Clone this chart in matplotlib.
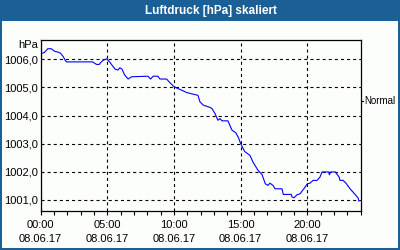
import matplotlib
matplotlib.use("Agg")
import matplotlib.pyplot as plt
from matplotlib.patches import Rectangle

plt.rcParams["font.family"] = ["Liberation Sans", "DejaVu Sans"]
plt.rcParams["lines.scale_dashes"] = False

# hours since 08.06.17 00:00 and pressure in hPa
hours = [0.0, 0.3, 0.55, 0.8, 1.0, 1.1, 1.3, 1.5, 1.7, 1.85, 1.95, 3.9, 4.2, 4.4, 4.5, 4.7,
         4.95, 5.2, 5.35, 5.6, 5.8, 5.95, 6.1, 6.3, 6.57, 6.82, 8.05, 8.25, 8.45, 8.8, 8.95,
         9.45, 9.7, 9.95, 10.2, 10.45, 10.95, 11.45, 11.8, 11.95, 12.2, 12.7, 12.85, 13.08,
         13.3, 13.45, 13.6, 14.05, 14.35, 14.65, 14.85, 15.0, 15.3, 15.7, 15.93, 16.3, 16.6,
         16.85, 17.05, 17.2, 17.43, 17.58, 18.1, 18.2, 18.8, 18.85, 19.0, 19.23, 19.45, 19.8,
         20.0, 20.2, 20.43, 20.73, 20.95, 21.1, 21.6, 21.65, 21.75, 22.1, 22.38, 22.45, 22.68,
         22.9, 23.2, 23.43, 23.65, 23.8, 23.87]
pressure = [1006.19, 1006.25, 1006.38, 1006.38, 1006.31, 1006.28, 1006.26, 1006.22, 1006.10,
            1005.97, 1005.91, 1005.91, 1005.82, 1005.82, 1005.88, 1005.97, 1006.02, 1005.90,
            1005.80, 1005.65, 1005.62, 1005.70, 1005.66, 1005.45, 1005.30, 1005.38, 1005.40,
            1005.30, 1005.40, 1005.40, 1005.30, 1005.30, 1005.17, 1005.05, 1004.98, 1004.93,
            1004.82, 1004.76, 1004.72, 1004.49, 1004.37, 1004.29, 1004.25, 1004.07, 1003.83,
            1003.89, 1003.81, 1003.81, 1003.48, 1003.38, 1003.20, 1003.00, 1002.72, 1002.58,
            1002.34, 1002.05, 1001.90, 1001.57, 1001.51, 1001.59, 1001.51, 1001.39, 1001.39,
            1001.19, 1001.19, 1001.10, 1001.07, 1001.18, 1001.21, 1001.43, 1001.57, 1001.59,
            1001.69, 1001.69, 1001.81, 1001.99, 1001.99, 1001.89, 1001.99, 1001.99, 1001.81,
            1001.69, 1001.69, 1001.59, 1001.39, 1001.27, 1001.15, 1001.07, 1000.95]

x_ticks = [0, 5, 10, 15, 20]
x_labels = ["00:00\n08.06.17", "05:00\n08.06.17", "10:00\n08.06.17",
            "15:00\n08.06.17", "20:00\n08.06.17"]
y_ticks = [1001, 1002, 1003, 1004, 1005, 1006]
y_labels = ["1001,0", "1002,0", "1003,0", "1004,0", "1005,0", "1006,0"]

W, H = 400, 250
blue = "#1a5f96"
fig = plt.figure(figsize=(4, 2.5), dpi=100, facecolor=blue)
# white body inside the blue frame
fig.patches.append(Rectangle((2 / W, 2 / H), 396 / W, (H - 23) / H, transform=fig.transFigure,
                             facecolor="#fcfefc", edgecolor="none", zorder=-5))
fig.text(211 / W, 1 - 11 / H, "Luftdruck [hPa] skaliert", color="white", fontsize=8.5,
         fontweight="bold", ha="center", va="center")

ax = fig.add_axes([40.5 / W, 39.3 / H, 320.2 / W, 170.7 / H], zorder=1)
ax.set_facecolor("#fcfefc")
ax.plot(hours, pressure, color="#0000ff", linewidth=0.8, antialiased=True)

ax.set_xlim(0, 24)
ax.set_ylim(1000.61, 1006.69)
ax.set_xticks(x_ticks)
ax.set_xticklabels(x_labels, fontsize=8, linespacing=1.5)
ax.set_xticks(range(0, 25), minor=True)
ax.set_yticks(y_ticks)
ax.set_yticklabels(y_labels, fontsize=8)
ax.tick_params(axis="x", which="both", direction="out", length=3, width=0.8, pad=4)
ax.tick_params(axis="y", length=0, pad=2)
ax.grid(True, color="black", linestyle=(0, (2.2, 2.2)), linewidth=0.8)
for s in ax.spines.values():
    s.set_linewidth(0.9)
    s.set_color("black")

ax.annotate("hPa", xy=(0.0, 1006.52), xycoords=("axes fraction", "data"),
            xytext=(-2, 0), textcoords="offset points", fontsize=8, ha="right", va="center")
ax.annotate("Normal", xy=(1.0, 1004.5), xycoords=("axes fraction", "data"),
            xytext=(2.5, 0), textcoords="offset points", fontsize=7, va="center")
ax.plot([1.0, 1.008], [1004.5, 1004.5], color="black", linewidth=0.8,
        transform=ax.get_yaxis_transform(), clip_on=False)

fig.savefig("out.png", dpi=100, facecolor=blue)
